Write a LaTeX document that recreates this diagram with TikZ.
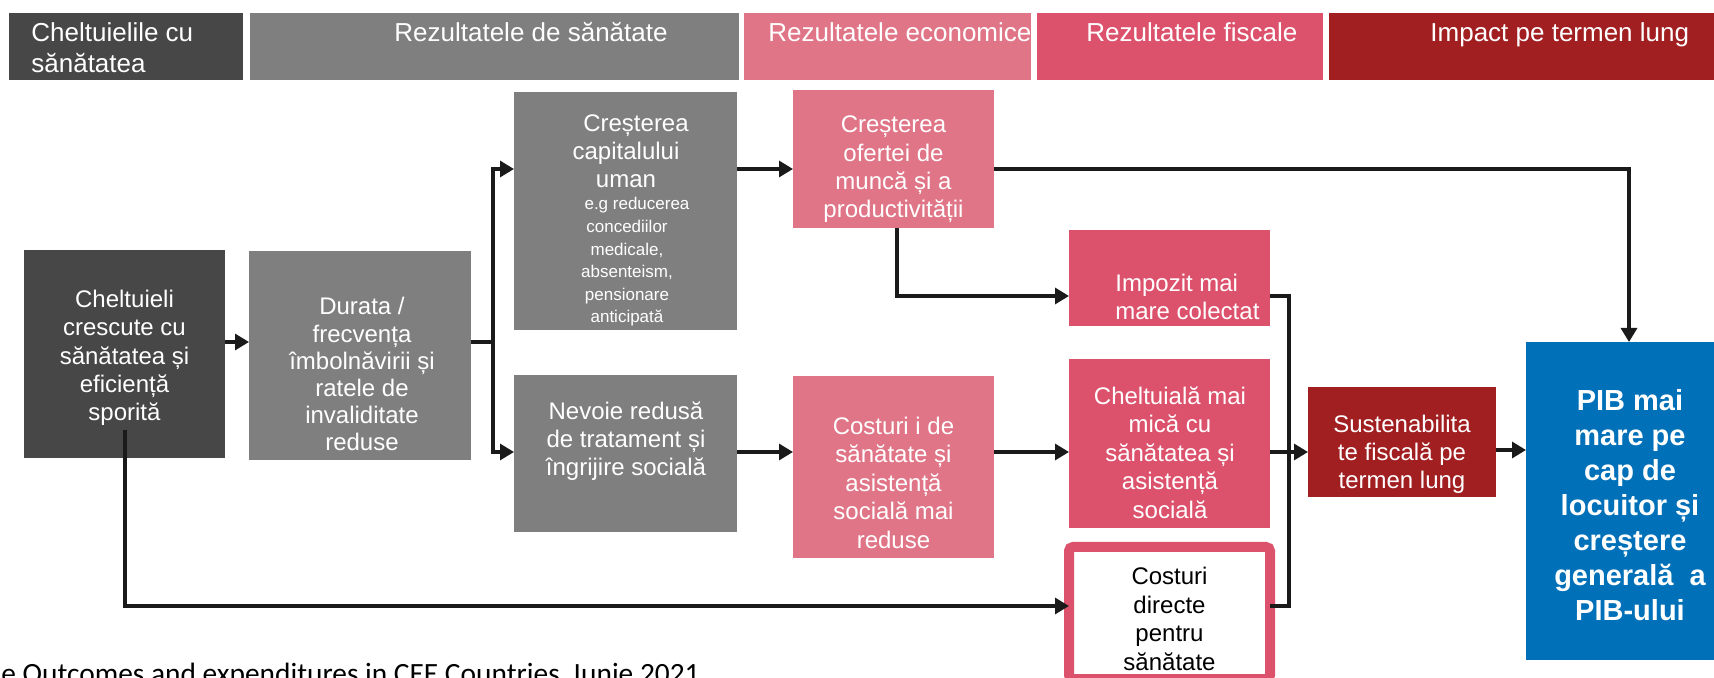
\documentclass[tikz,border=0pt]{standalone}
\usepackage{fontspec}
\setmainfont{Liberation Sans}
\newfontfamily\footfont{Carlito}
\usetikzlibrary{arrows.meta,calc}
\definecolor{dgray}{HTML}{474747}
\definecolor{mgray}{HTML}{7F7F7F}
\definecolor{pinkA}{HTML}{E07587}
\definecolor{pinkB}{HTML}{DC526C}
\definecolor{darkred}{HTML}{A11F21}
\definecolor{blueK}{HTML}{0070B8}
\definecolor{lineC}{HTML}{1A1A1A}
\begin{document}
\begin{tikzpicture}[x=0.5pt,y=-0.5pt,
  box/.style={inner sep=0pt, outer sep=0pt, anchor=north west, draw=none},
  txt/.style={text=white, align=center, anchor=base, inner sep=0pt, font=\fontsize{12}{14.2}\selectfont},
  small/.style={text=white, align=center, anchor=base, inner sep=0pt, font=\fontsize{8.5}{11.3}\selectfont},
  bigtxt/.style={text=white, align=center, anchor=base, inner sep=0pt, font=\bfseries\fontsize{14.5}{17.5}\selectfont},
  htxt/.style={text=white, align=left, anchor=base west, inner sep=0pt, font=\fontsize{13}{15.5}\selectfont},
  ln/.style={draw=lineC, line width=1.6pt},
  arr/.style={ln, -{Triangle[length=7pt,width=8pt]}}]

\useasboundingbox (0,0) rectangle (1714,678);

% header bars
\node[box, fill=dgray,   minimum width=117pt,   minimum height=33.5pt] (h1) at (9,13) {};
\node[box, fill=mgray,   minimum width=244.5pt, minimum height=33.5pt] (h2) at (250,13) {};
\node[box, fill=pinkA,   minimum width=143.5pt, minimum height=33.5pt] (h3) at (744,13) {};
\node[box, fill=pinkB,   minimum width=143pt,   minimum height=33.5pt] (h4) at (1037,13) {};
\node[box, fill=darkred, minimum width=192.5pt, minimum height=33.5pt] (h5) at (1329,13) {};
% (multi-line nodes: base = baseline of the last line)
\node[htxt] (h1t) at (31,73) {Cheltuielile cu\\sănătatea};
\node[htxt] (h2t) at (394,42) {Rezultatele de sănătate};
\node[htxt] (h3t) at (768,42) {Rezultatele economice};
\node[htxt] (h4t) at (1086,42) {Rezultatele fiscale};
\node[htxt] (h5t) at (1430,42) {Impact pe termen lung};

% boxes
\node[box, fill=dgray, minimum width=100.5pt, minimum height=104pt] (A) at (24,250) {};
\node[box, fill=mgray, minimum width=111pt, minimum height=104.5pt] (B) at (249,251) {};
\node[box, fill=mgray, minimum width=111.5pt, minimum height=119pt] (C) at (514,92) {};
\node[box, fill=mgray, minimum width=111.5pt, minimum height=78.5pt] (D) at (514,375) {};
\node[box, fill=pinkA, minimum width=100.5pt, minimum height=69pt] (E) at (793,90) {};
\node[box, fill=pinkA, minimum width=100.5pt, minimum height=91pt] (F) at (793,376) {};
\node[box, fill=pinkB, minimum width=100.5pt, minimum height=48pt] (G) at (1069,230) {};
\node[box, fill=pinkB, minimum width=100.5pt, minimum height=84.5pt] (H) at (1069,359) {};
\node[box, fill=white, draw=pinkB, line width=5pt, rounded corners=2pt, minimum width=100.5pt, minimum height=66pt] (I) at (1069,547) {};
\node[box, fill=darkred, minimum width=94pt, minimum height=55pt] (J) at (1308,387) {};
\node[box, fill=blueK, minimum width=94pt, minimum height=159pt] (K) at (1526,342) {};

% texts (anchored at the baseline of their last line)
\node[txt] (At) at (124.5,421) {Cheltuieli\\crescute cu\\sănătatea și\\eficiență\\sporită};
\node[txt, font=\fontsize{12}{13.6}\selectfont] (Bt) at (362,451) {Durata /\\frecvența\\îmbolnăvirii și\\ratele de\\invaliditate\\reduse};
\node[txt] (Ct) at (626,188) {\hspace*{10pt}Creșterea\\capitalului\\uman};
\node[small] (Cs) at (627,323) {\hspace*{10pt}e.g reducerea\\concediilor\\medicale,\\absenteism,\\pensionare\\anticipată};
\node[txt] (Dt) at (626,476) {Nevoie redusă\\de tratament și\\îngrijire socială};
\node[txt] (Et) at (893.5,218) {Creșterea\\ofertei de\\muncă și a\\productivității};
\node[txt] (Ft) at (893.5,548) {Costuri i de\\sănătate și\\asistență\\socială mai\\reduse};
\node[txt, align=left, anchor=base west] (Gt) at (1115,320) {Impozit mai\\mare colectat};
\node[txt] (Ht) at (1170,518) {Cheltuială mai\\mică cu\\sănătatea și\\asistență\\socială};
\node[txt, text=black] (It) at (1169.5,670) {Costuri\\directe\\pentru\\sănătate};
\node[txt] (Jt) at (1402,489) {Sustenabilita\\te fiscală pe\\termen lung};
\node[bigtxt] (Kt) at (1630,620) {PIB mai\\mare pe\\cap de\\locuitor și\\creștere\\generală\ \ a\\PIB-ului};

% footer
\node[anchor=base west, inner sep=0pt, font=\footfont\fontsize{14.7}{16}\selectfont] (src) at (1,683) {e Outcomes and expenditures in CEE Countries, Iunie 2021};

% connectors
\coordinate (split) at (493,342);
\coordinate (yTop) at (0,169);
\coordinate (yMid) at (0,452);
\coordinate (col) at (1289,0);
\coordinate (Astart) at (125,430);

\draw[arr] (A.east |- split) -- (B.west |- split);
\draw[ln] (B.east |- split) -- (split);
\draw[arr] (split) |- (C.west |- yTop);
\draw[arr] (split) |- (D.west |- yMid);
\draw[arr] (C.east |- yTop) -- (E.west |- yTop);
\draw[arr] (E.east |- yTop) -| (K.north -| 1629,0);
\draw[arr] (E.south -| 897,0) |- (G.west |- 0,296);
\draw[arr] (D.east |- yMid) -- (F.west |- yMid);
\draw[arr] (F.east |- yMid) -- (H.west |- yMid);
\draw[ln] (G.east |- 0,296) -| (col |- 0,606) -- (I.east |- 0,606);
\draw[arr] (H.east |- yMid) -- (J.west |- yMid);
\draw[arr] (J.east |- 0,450) -- (K.west |- 0,450);
\draw[arr] (Astart) |- (I.west |- 0,606);
\end{tikzpicture}
\end{document}
